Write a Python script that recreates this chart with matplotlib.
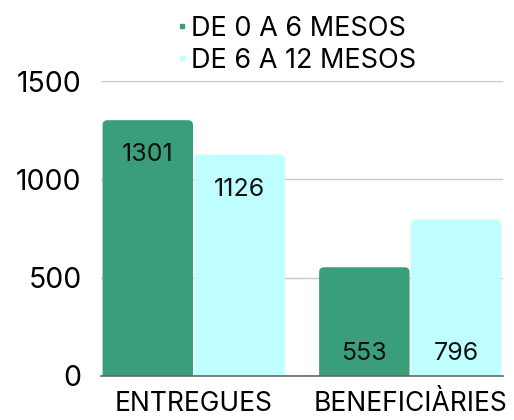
import matplotlib
matplotlib.use("Agg")
import matplotlib.pyplot as plt
from matplotlib.patches import FancyBboxPatch
from matplotlib.lines import Line2D
import numpy as np

categories = ["ENTREGUES", "BENEFICIÀRIES"]
series_names = ["DE 0 A 6 MESOS", "DE 6 A 12 MESOS"]
series_0_6 = [1301, 553]
series_6_12 = [1126, 796]
yticks = [0, 500, 1000, 1500]

colors = ["#3A9E7B", "#C0FFFF"]
plt.rcParams['font.family'] = ['Inter', 'DejaVu Sans']

fig = plt.figure(figsize=(5.14, 4.2), dpi=100)
ax = fig.add_axes([0.1965, 0.1048, 0.782, 0.7022])

x = np.arange(len(categories))
w = 0.424
xlim = (-0.428, 1.428)
ylim = (0, 1500)
ax.set_xlim(*xlim)
ax.set_ylim(*ylim)

# pixel -> data scale for rounded corners
fig_w_px = 514 * 0.782
fig_h_px = 420 * 0.7022
xu = (xlim[1] - xlim[0]) / fig_w_px
yu = (ylim[1] - ylim[0]) / fig_h_px
r_px = 5

bars = []
for i, (vals, c) in enumerate(zip([series_0_6, series_6_12], colors)):
    off = (i - 0.5) * w
    b = ax.bar(x + off, vals, width=w * 0.985, color=c, zorder=2)
    bars.append(b)
    for rect in b:
        rect.set_visible(False)
        rx, rw, rh = rect.get_x(), rect.get_width(), rect.get_height()
        r = r_px * xu
        p = FancyBboxPatch((rx + r, -r_px * 3 * yu + r * (yu / xu)), rw - 2 * r,
                           rh + r_px * 3 * yu - 2 * r * (yu / xu),
                           boxstyle=f"round,pad={r},rounding_size={r}",
                           mutation_aspect=yu / xu, facecolor=c, edgecolor='none',
                           zorder=2, clip_on=True)
        ax.add_patch(p)

ax.set_yticks(yticks)
ax.set_yticklabels([str(t) for t in yticks], fontsize=20.5)
ax.set_xticks(x)
ax.set_xticklabels(categories, fontsize=19)
ax.tick_params(axis='y', length=0, pad=14)
ax.tick_params(axis='x', length=0, pad=11)
ax.grid(axis='y', color='#C8C8C8', linewidth=1, zorder=0)
for s in ['top', 'right', 'left']:
    ax.spines[s].set_visible(False)
ax.spines['bottom'].set_color('#666666')
ax.spines['bottom'].set_linewidth(1.2)
ax.spines['bottom'].set_zorder(3)

# value labels
for si, b in enumerate(bars):
    for ci, rect in enumerate(b):
        v = rect.get_height()
        cx = rect.get_x() + rect.get_width() / 2
        if ci == 0:
            ax.annotate(str(v), (cx, v), xytext=(0, -25), textcoords='offset points',
                        ha='center', va='center', fontsize=18, color='#111111', zorder=4)
        else:
            ax.annotate(str(v), (cx, 0), xytext=(0, 16), textcoords='offset points',
                        ha='center', va='center', fontsize=18, color='#111111', zorder=4)

handles = [Line2D([], [], marker='s', linestyle='none', markersize=3,
                  markerfacecolor=c, markeredgecolor=c) for c in colors]
fig.legend(handles, series_names, loc='upper center', bbox_to_anchor=(0.578, 1.02),
           ncol=1, frameon=False, fontsize=19.5, handlelength=0.3, handletextpad=0.15,
           labelspacing=0.22)

fig.savefig("out.png", dpi=100)
